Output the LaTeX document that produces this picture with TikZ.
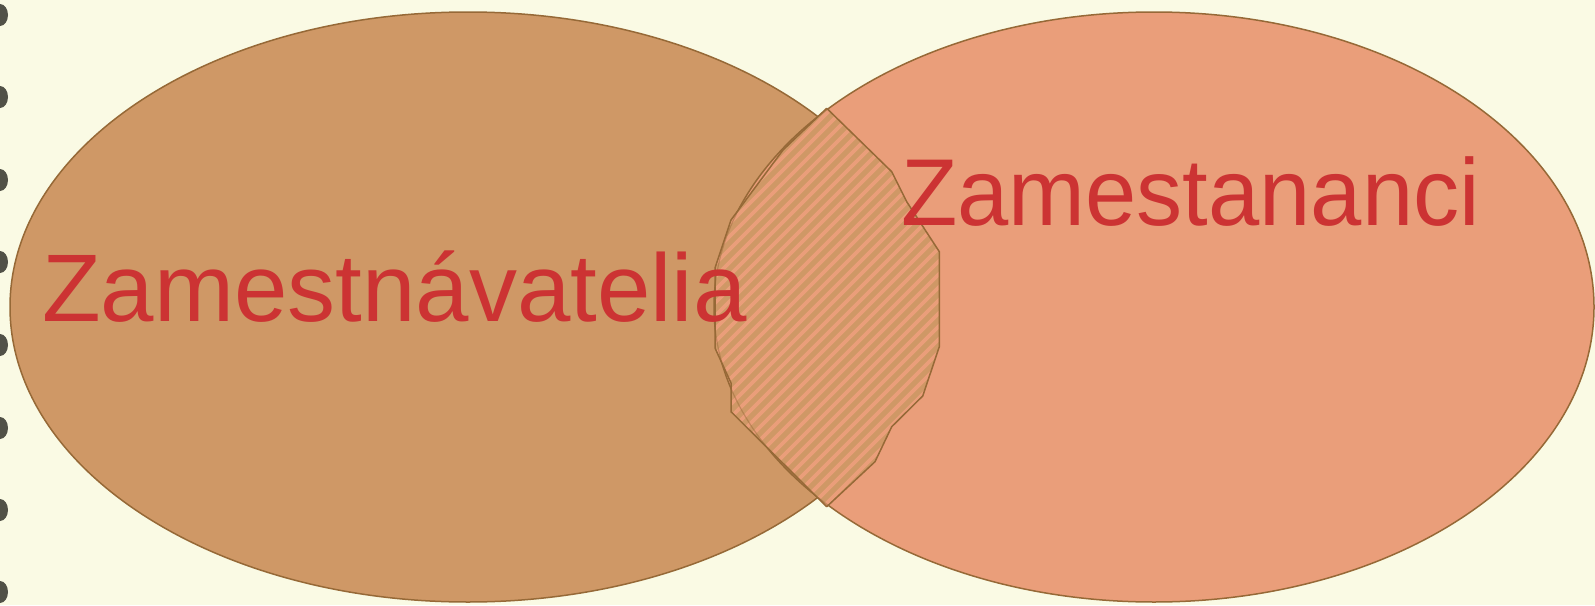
\documentclass[tikz,border=0pt]{standalone}
\usepackage{fontspec}
\setmainfont{Liberation Sans}
\newfontfamily\narrowlabel[FakeStretch=0.97]{Liberation Sans}
\usetikzlibrary{shapes.geometric}
\definecolor{bgc}{HTML}{FAFAE4}
\definecolor{leftfill}{HTML}{CF9866}
\definecolor{rightfill}{HTML}{EA9E7A}
\definecolor{edgec}{HTML}{966937}
\definecolor{textred}{HTML}{CC3333}
\definecolor{dotc}{HTML}{34342C}
\tikzset{
  setshape/.style={ellipse, draw=edgec, line width=1.5pt, inner sep=0pt, minimum width=#1},
  setlabel/.style={text=textred, inner sep=0pt, anchor=base west},
  bindhole/.style={fill=dotc, fill opacity=0.85},
  overlapedge/.style={draw=edgec, line width=1.5pt, line join=round},
}
\begin{document}
\begin{tikzpicture}[x=1pt,y=-1pt]
\useasboundingbox (0,0) rectangle (1595,605);
\fill[bgc] (0,0) rectangle (1595,605);
% binding holes on the left edge
\foreach \yy in {15,97,180,262,345,428,510,592}{
  \fill[bindhole] (0,\yy) ellipse [x radius=8pt, y radius=11pt];
}
% the two sets
\node[setshape=916pt, minimum height=590pt, fill=leftfill] (employers) at (468,307) {};
\node[setshape=880pt, minimum height=590pt, fill=rightfill] (employees) at (1154,307) {};
% hatched overlap region
\begin{scope}
  \clip (826.7,108.3) -- (891.7,171.7) -- (906.7,201.7) -- (939.3,251.7) -- (939.3,346.7)
     -- (922.7,396) -- (891.7,426.7) -- (875,461.7) -- (826.7,506.7) -- (731,411.7)
     -- (731,383) -- (715,348) -- (715,268) -- (731,220) -- (783,150) -- cycle;
  \fill[leftfill] (700,100) rectangle (950,520);
  \foreach \k in {0,...,60}{
    \draw[rightfill, line width=3.8pt] ({290+13*\k},520) -- ++(420,-420);
  }
  \draw[edgec, line width=1.2pt, opacity=0.45] (employees.center) ellipse [x radius=440pt, y radius=295pt];
\end{scope}
\draw[overlapedge] (826.7,108.3) -- (891.7,171.7) -- (906.7,201.7) -- (939.3,251.7) -- (939.3,346.7)
     -- (922.7,396) -- (891.7,426.7) -- (875,461.7) -- (826.7,506.7) -- (731,411.7)
     -- (731,383) -- (715,348) -- (715,268) -- (731,220) -- (783,150) -- cycle;
% labels
\node[setlabel, font=\fontsize{96}{100}\selectfont] (employerslabel) at (42,321) {Zamestnávatelia};
\node[setlabel, font=\narrowlabel\fontsize{95}{100}\selectfont] (employeeslabel) at (901,225) {Zamestananci};
\end{tikzpicture}
\end{document}
